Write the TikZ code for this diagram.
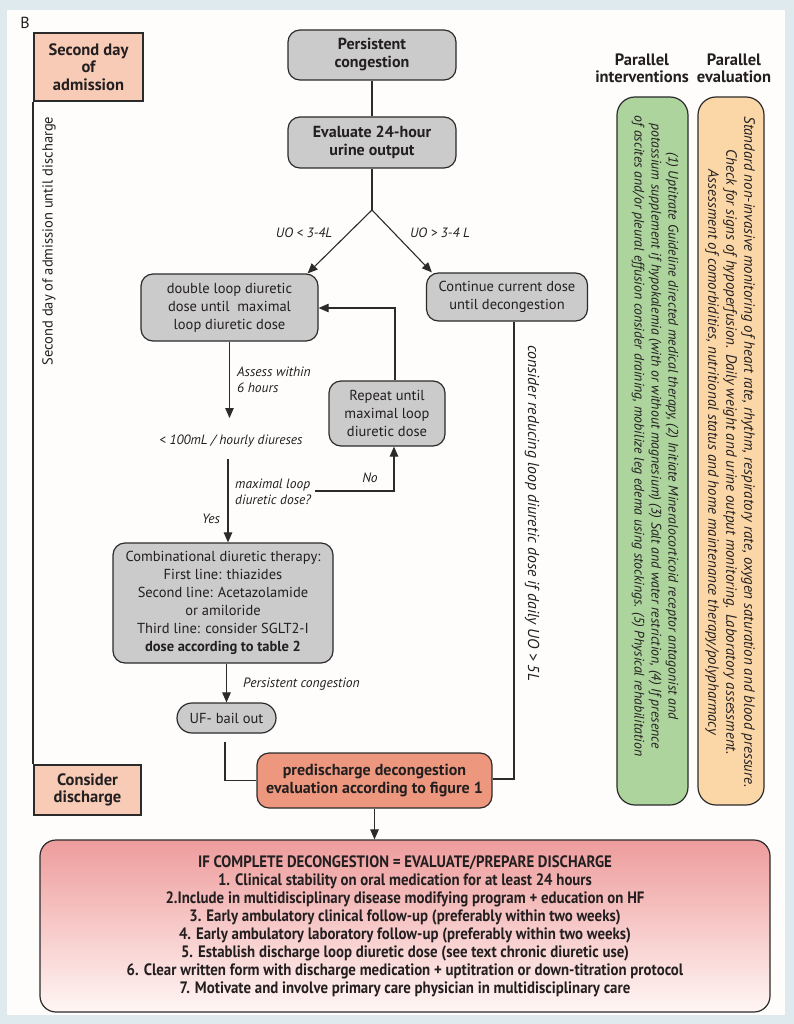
\documentclass[tikz,border=0pt]{standalone}
\usepackage{fontspec}
\setmainfont{PT Sans}
\newfontfamily\condb[FakeStretch=0.9]{PT Sans}
\usetikzlibrary{arrows.meta}
\definecolor{bgblue}{HTML}{DEEAED}
\definecolor{panel}{HTML}{FFFDFC}
\definecolor{boxgray}{HTML}{CBCBCB}
\definecolor{peach}{HTML}{F7CBB6}
\definecolor{salmon}{HTML}{EC977E}
\definecolor{greencol}{HTML}{AED49E}
\definecolor{orangecol}{HTML}{FBD7A8}
\definecolor{linec}{HTML}{2B2B2B}
\definecolor{txt}{HTML}{231F20}
\definecolor{redtop}{HTML}{EE9C9C}
\definecolor{redbot}{HTML}{FFF6F4}
\tikzset{
  base/.style={text=txt, font=\fontsize{14.5}{18}\selectfont},
  graybox/.style={base, draw=linec, line width=1.2pt, fill=boxgray, rounded corners=12pt, align=center, inner sep=2pt},
  salbox/.style={graybox, fill=salmon},
  peachbox/.style={base, draw=linec, line width=1.1pt, fill=peach, align=center, inner sep=2pt, font=\fontsize{16.5}{17.5}\selectfont\bfseries},
  colbox/.style={draw=linec, line width=1.2pt, rounded corners=18pt},
  lbl/.style={base, font=\fontsize{13.5}{16.5}\selectfont\itshape, inner sep=1pt},
  hdr/.style={base, align=center, font=\fontsize{16.5}{17}\selectfont\bfseries},
  ln/.style={draw=linec, line width=1.1pt},
  arr/.style={ln, -{Triangle[length=10pt,width=8.5pt]}},
}
\begin{document}
\begin{tikzpicture}[x=1pt,y=-1pt]
\useasboundingbox (0,0) rectangle (794,1024);
\fill[bgblue] (0,0) rectangle (794,1024);
\fill[panel] (7,10) rectangle (785,1015);
\node[base, font=\fontsize{16}{17}\selectfont] (B) at (25,23) {B};

% timeline
\node[peachbox, minimum width=109pt, minimum height=68pt] (sd) at (88.5,67) {Second day\\of\\admission};
\node[peachbox, minimum width=107pt, minimum height=50pt] (cd) at (87.5,790) {Consider\\discharge};
\draw[draw=linec, line width=2pt] (sd.south west) -- (cd.north west);
\node[base, rotate=90, font=\fontsize{14.5}{16}\selectfont] (tl) at (49,241) {Second day of admission until discharge};

% main flow
\node[graybox, minimum width=168pt, minimum height=50pt, font=\fontsize{16}{18}\selectfont\bfseries] (pc) at (372,55) {Persistent\\congestion};
\node[graybox, minimum width=168pt, minimum height=51pt, font=\fontsize{16}{18}\selectfont\bfseries] (ev) at (372,142.5) {Evaluate 24-hour\\urine output};
\coordinate (split) at (372,210);
\draw[ln] (pc) -- (ev);
\draw[ln] (ev) -- (split);
\node[graybox, minimum width=177pt, minimum height=67pt] (dbl) at (229.5,307.5) {double loop diuretic\\dose until\ \ maximal\\loop diuretic dose};
\node[graybox, minimum width=161pt, minimum height=48pt] (cont) at (507,297) {Continue current dose\\until decongestion};
\draw[arr] (split) -- ([xshift=-11pt]dbl.north east);
\draw[arr] (split) -- ([xshift=6pt]cont.north west);
\node[lbl] (l1) at (304,233) {UO < 3-4L};
\node[lbl] (l2) at (440,233) {UO > 3-4 L};

\coordinate (a1end) at (229.5,418);
\draw[arr] (dbl.south) -- (a1end);
\node[lbl, anchor=west, align=left] (as) at (236,380) {Assess within\\6 hours};
\node[lbl] (hd) at (231,441) {< 100mL / hourly diureses};

\node[graybox, minimum width=116pt, minimum height=65pt] (rep) at (387,413.5) {Repeat until\\maximal loop\\diuretic dose};
\coordinate (rt) at (395,308);
\draw[arr] (rep.north -| rt) -- (rt) -- (dbl.east |- rt);

\node[graybox, minimum width=220pt, minimum height=120pt] (comb) at (223,603) {Combinational diuretic therapy:\\First line: thiazides\\Second line: Acetazolamide\\or amiloride\\Third line: consider SGLT2-I\\\textbf{dose according to table 2}};
\coordinate (q1) at (228,459);
\draw[arr] (q1) -- (comb.north -| q1);
\node[lbl, anchor=west, align=left] (ml) at (234,492) {maximal loop\\diuretic dose?};
\coordinate (nl) at (315,491);
\coordinate (nc) at (394,491);
\draw[arr] (nl) -- (nc) -- (rep.south -| nc);
\node[lbl] (no) at (370,478) {No};
\node[lbl] (yes) at (211,519) {Yes};

\node[graybox, rounded corners=15pt, minimum width=99pt, minimum height=30pt] (uf) at (226.5,718) {UF- bail out};
\draw[arr] (comb.south -| uf.north) -- (uf.north);
\node[lbl, anchor=west] (pcl) at (242,684) {Persistent congestion};

\node[salbox, minimum width=235pt, minimum height=55pt, font=\fontsize{16}{18}\selectfont\bfseries] (pd) at (374.5,780.5) {predischarge decongestion\\evaluation according to figure 1};
\coordinate (ufl) at (225,742);
\draw[ln] (ufl) -- (ufl |- pd.west) -- (pd.west);
\coordinate (cx) at (514,779);
\draw[ln] (cont.south -| cx) -- (cx) -- (pd.east |- cx);
\node[lbl, rotate=-90, font=\fontsize{15.8}{17}\selectfont\itshape] (red) at (532,513) {consider reducing loop diuretic dose if daily UO > 5L};

% bottom box
\node[draw=linec, line width=1.2pt, rounded corners=16pt, top color=redtop, bottom color=redbot, minimum width=730pt, minimum height=172pt, align=center, text=txt, font=\fontsize{16.5}{18}\condb\bfseries] (bot) at (405,926) {IF COMPLETE DECONGESTION = EVALUATE/PREPARE DISCHARGE\\
1. Clinical stability on oral medication for at least 24 hours\\
2.Include in multidisciplinary disease modifying program + education on HF\\
3. Early ambulatory clinical follow-up (preferably within two weeks)\\
4. Early ambulatory laboratory follow-up (preferably within two weeks)\\
5. Establish discharge loop diuretic dose (see text chronic diuretic use)\\
6. Clear written form with discharge medication + uptitration or down-titration protocol\\
7. Motivate and involve primary care physician in multidisciplinary care};
\draw[arr] (pd.south) -- (pd.south |- bot.north);

% right columns
\node[hdr] (h1) at (642,68) {Parallel\\interventions};
\node[hdr] (h2) at (734,68) {Parallel\\evaluation};
\node[colbox, fill=greencol, minimum width=71pt, minimum height=708pt] (gc) at (652.5,451) {};
\node[colbox, fill=orangecol, minimum width=66pt, minimum height=708pt] (oc) at (731,451) {};
\node[base, align=center, font=\fontsize{13.8}{17}\selectfont\itshape, rotate=-90] (gt) at (655,436) {(1) Uptitrate Guideline directed medical therapy, (2) Initiate Mineralocorticoid receptor antagonist and\\potassium supplement if hypokalemia (with or without magnesium) (3) Salt and water restriction, (4) If presence\\of ascites and/or pleural effusion consider draining, mobilize leg edema using stockings. (5) Physical rehabilitation};
\node[base, align=center, font=\fontsize{14.9}{18}\selectfont\itshape, rotate=-90] (ot) at (730,452) {Standard non-invasive monitoring of heart rate, rhythm, respiratory rate, oxygen saturation and blood pressure.\\Check for signs of hypoperfusion. Daily weight and urine output monitoring. Laboratory assessment.\\Assessment of comorbidities, nutritional status and home maintenance therapy/polypharmacy};
\end{tikzpicture}
\end{document}
